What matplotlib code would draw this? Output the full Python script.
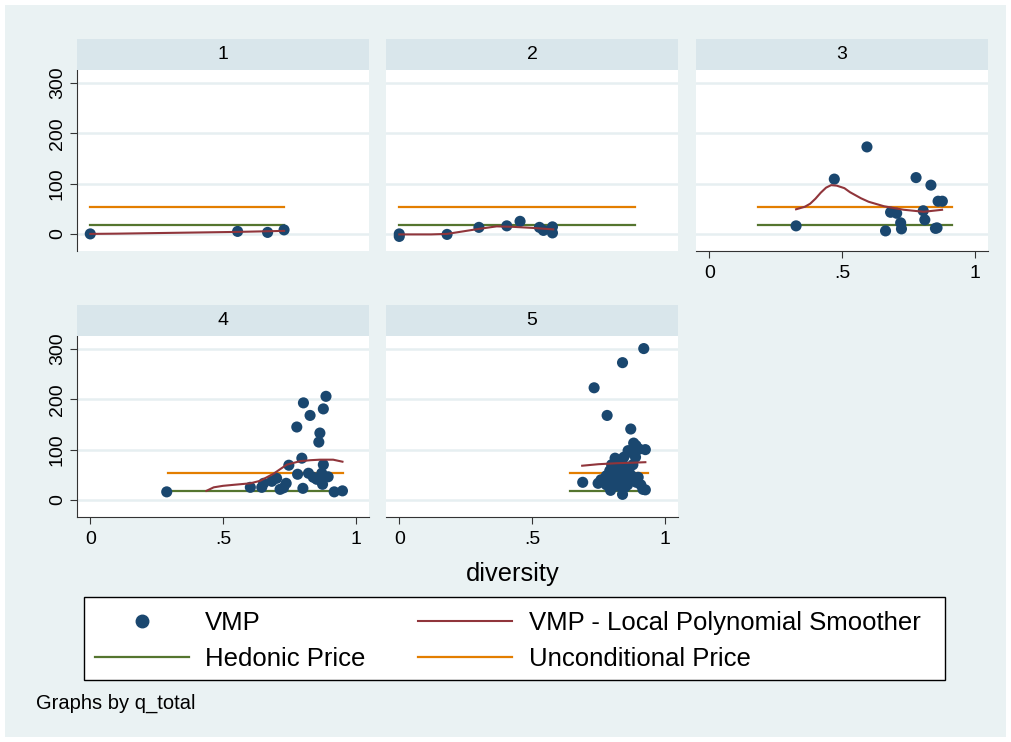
import matplotlib
matplotlib.use("Agg")
import matplotlib.pyplot as plt
from matplotlib.lines import Line2D
from matplotlib.patches import Rectangle

plt.rcParams["font.family"] = ["Liberation Sans", "DejaVu Sans"]

# ----------------------------
# data
# ----------------------------
panel_titles = ["1", "2", "3", "4", "5"]

hedonic_price = 17.5
unconditional_price = 53.0

# x-range over which the two price lines run in each panel
price_xmin = [0.0, 0.0, 0.183, 0.292, 0.643]
price_xmax = [0.73, 0.887, 0.916, 0.953, 0.937]

p1_x = [0.0, 0.555, 0.668, 0.73]
p1_y = [0, 5, 3, 8]
p1_sx = [0.0, 0.10, 0.555, 0.73]
p1_sy = [0, 0.5, 4, 6]

p2_x = [0.0, 0.0, 0.18, 0.30, 0.405, 0.455, 0.528, 0.543, 0.577, 0.577]
p2_y = [-5, 0, -1, 13, 16, 25, 13, 7, 14, 2]
p2_sx = [0.0, 0.12, 0.18, 0.24, 0.30, 0.367, 0.43, 0.50, 0.58]
p2_sy = [-1, -1, 0, 5, 10, 15, 14, 12, 9]

p3_x = [0.327, 0.471, 0.594, 0.664, 0.683, 0.706, 0.721, 0.724,
        0.779, 0.806, 0.812, 0.835, 0.852, 0.858, 0.862, 0.878]
p3_y = [16, 109, 173, 6, 43, 41, 22, 10, 112, 46, 28, 97, 11, 12, 65, 65]
p3_sx = [0.327, 0.36, 0.38, 0.40, 0.42, 0.44, 0.459, 0.48, 0.509, 0.53,
         0.571, 0.60, 0.658, 0.733, 0.808, 0.877]
p3_sy = [49, 54, 60, 70, 82, 92, 97, 96, 91, 83, 71, 64, 55, 48, 44, 48]

p4_x = [0.288, 0.603, 0.646, 0.653, 0.684, 0.702, 0.715, 0.728, 0.738, 0.748,
        0.778, 0.781, 0.797, 0.803, 0.801, 0.822, 0.828, 0.840, 0.853, 0.865,
        0.861, 0.872, 0.875, 0.878, 0.878, 0.888, 0.884, 0.896, 0.919, 0.950]
p4_y = [16, 25, 25, 33, 37, 43, 21, 24, 33, 69,
        145, 51, 83, 193, 23, 53, 168, 45, 41, 133,
        115, 53, 31, 70, 181, 206, 45, 46, 16, 18]
p4_sx = [0.4375, 0.465, 0.50, 0.54, 0.603, 0.64, 0.69, 0.74, 0.79, 0.83,
         0.865, 0.915, 0.95]
p4_sy = [18, 25, 28, 30, 33, 38, 52, 70, 77, 79, 80, 80, 76]

p5_x = [0.921, 0.841, 0.734, 0.783, 0.872, 0.883, 0.862, 0.904, 0.927, 0.868,
        0.892, 0.813, 0.846, 0.691, 0.749, 0.796, 0.841, 0.927, 0.918, 0.893,
        0.875, 0.793, 0.780, 0.831, 0.800, 0.810, 0.820, 0.825, 0.830, 0.835,
        0.840, 0.845, 0.850, 0.855, 0.860, 0.865, 0.870, 0.850, 0.800, 0.815,
        0.780, 0.760, 0.840, 0.820, 0.880, 0.890, 0.910, 0.900]
p5_y = [301, 273, 223, 168, 141, 113, 98, 101, 100, 95,
        108, 83, 85, 35, 33, 19, 11, 20, 21, 35,
        48, 58, 48, 61, 40, 30, 50, 70, 45, 35,
        55, 65, 40, 50, 30, 60, 45, 25, 70, 62,
        30, 40, 80, 28, 70, 85, 30, 45]
p5_sx = [0.689, 0.75, 0.82, 0.88, 0.927]
p5_sy = [68, 71, 73, 74, 75]

points_x = [p1_x, p2_x, p3_x, p4_x, p5_x]
points_y = [p1_y, p2_y, p3_y, p4_y, p5_y]
smooth_x = [p1_sx, p2_sx, p3_sx, p4_sx, p5_sx]
smooth_y = [p1_sy, p2_sy, p3_sy, p4_sy, p5_sy]

# ----------------------------
# Stata s2color look
# ----------------------------
C_NAVY = "#1a476f"
C_MAROON = "#90353b"
C_GREEN = "#55752f"
C_ORANGE = "#e37e00"
C_BG = "#eaf2f3"
C_STRIP = "#d9e6eb"
C_GRID = "#e6eff1"
C_AXIS = "#333333"

W, H = 1011, 742
fig = plt.figure(figsize=(W / 100, H / 100), dpi=100, facecolor="white")


def fx(px):
    return px / W


def fy(py):
    return 1 - py / H


# graph region (behind the axes)
bg = fig.add_axes([fx(5), fy(737), fx(1006 - 5), (737 - 5) / H], zorder=-10)
bg.set_facecolor(C_BG)
bg.set_xticks([])
bg.set_yticks([])
for s in bg.spines.values():
    s.set_visible(False)

col_left = [77, 386, 696]
col_w = 292
row_plot = [(70, 251), (336, 517)]
row_strip = [(39, 70), (305, 336)]

positions = [(0, 0), (0, 1), (0, 2), (1, 0), (1, 1)]
show_x = [False, False, True, True, True]
show_y = [True, False, False, True, False]

for i, (r, c) in enumerate(positions):
    top, bot = row_plot[r]
    ax = fig.add_axes([fx(col_left[c]), fy(bot), fx(col_w), (bot - top) / H])
    ax.set_facecolor("white")
    ax.set_xlim(-0.05, 1.05)
    ax.set_ylim(-34, 326)

    ax.set_yticks([0, 100, 200, 300])
    ax.set_xticks([0, 0.5, 1])
    ax.set_xticklabels(["0", ".5", "1"])
    ax.yaxis.grid(True, color=C_GRID, lw=1.8)
    ax.set_axisbelow(True)

    for s in ["top", "right"]:
        ax.spines[s].set_visible(False)
    ax.spines["left"].set_visible(show_y[i])
    ax.spines["bottom"].set_visible(show_x[i])
    ax.spines["left"].set_color(C_AXIS)
    ax.spines["bottom"].set_color(C_AXIS)

    ax.tick_params(axis="x", bottom=show_x[i], labelbottom=show_x[i],
                   labelsize=14, length=5, color=C_AXIS, pad=5)
    ax.tick_params(axis="y", left=show_y[i], labelleft=show_y[i],
                   labelsize=14, length=5, color=C_AXIS, pad=3)
    if show_y[i]:
        for lab in ax.get_yticklabels():
            lab.set_rotation(90)
            lab.set_va("center")

    ax.plot([price_xmin[i], price_xmax[i]], [unconditional_price] * 2,
            color=C_ORANGE, lw=1.6, zorder=3)
    ax.plot([price_xmin[i], price_xmax[i]], [hedonic_price] * 2,
            color=C_GREEN, lw=1.6, zorder=3)
    ax.scatter(points_x[i], points_y[i], s=64, color=C_NAVY,
               edgecolors="none", zorder=4)
    ax.plot(smooth_x[i], smooth_y[i], color=C_MAROON, lw=1.5, zorder=5)

    # strip title
    st, sb = row_strip[r]
    sax = fig.add_axes([fx(col_left[c]), fy(sb), fx(col_w), (sb - st) / H])
    sax.set_facecolor(C_STRIP)
    sax.set_xticks([])
    sax.set_yticks([])
    for s in sax.spines.values():
        s.set_visible(False)
    sax.text(0.5, 0.5, panel_titles[i], ha="center", va="center",
             fontsize=14, transform=sax.transAxes)

fig.text(fx(513), fy(574), "diversity", ha="center", va="center", fontsize=18.3)

# legend box
fig.patches.append(Rectangle((fx(84), fy(680)), fx(945 - 84), 83 / H,
                             transform=fig.transFigure, facecolor="white",
                             edgecolor="black", lw=1.0, zorder=1))

handles = [
    Line2D([], [], marker="o", ls="none", color=C_NAVY, markersize=9),
    Line2D([], [], color=C_MAROON, lw=1.5),
    Line2D([], [], color=C_GREEN, lw=1.6),
    Line2D([], [], color=C_ORANGE, lw=1.6),
]
labels = ["VMP", "VMP - Local Polynomial Smoother", "Hedonic Price",
          "Unconditional Price"]
# legend fills row-wise in the reference: reorder for matplotlib's column fill
order = [0, 2, 1, 3]
leg = fig.legend([handles[k] for k in order], [labels[k] for k in order],
                 ncol=2, loc="center left",
                 bbox_to_anchor=(fx(95), fy(641)),
                 borderaxespad=0, borderpad=0, fontsize=18.5,
                 handlelength=3.65, handletextpad=0.64, labelspacing=0.45,
                 columnspacing=2.05, frameon=False)

fig.text(fx(36), fy(703), "Graphs by q_total", ha="left", va="center",
         fontsize=14.5)

fig.savefig("out.png", dpi=100, facecolor=fig.get_facecolor())
